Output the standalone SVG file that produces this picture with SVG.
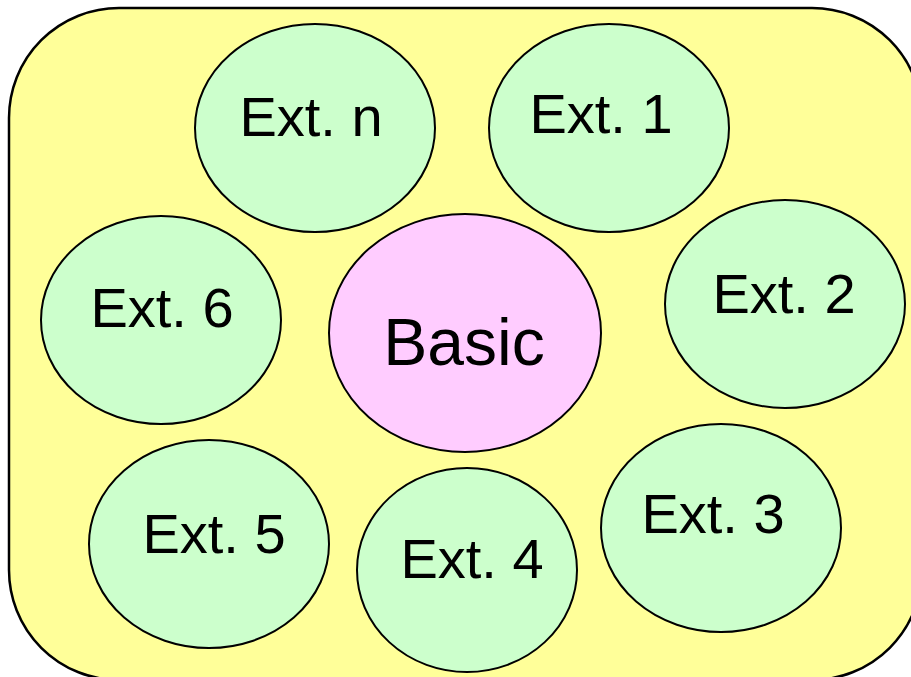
<svg xmlns="http://www.w3.org/2000/svg" width="911" height="677" viewBox="0 0 911 677">
<style>
.ext{fill:#CCFFCC;stroke:#000;stroke-width:2}
.basic{fill:#FFCCFF;stroke:#000;stroke-width:2}
text{font-family:"Liberation Sans","DejaVu Sans",sans-serif;fill:#000;text-anchor:middle}
.t{font-size:56px}
.b{font-size:66px}
</style>
<rect id="frame" x="9" y="8" width="913" height="672" rx="110" ry="110" fill="#FFFF99" stroke="#000" stroke-width="2.5"/>
<g id="connectors"></g>
<g id="ext-n"><ellipse class="ext" cx="315" cy="128" rx="120" ry="104"/><text class="t" x="311" y="136">Ext. n</text></g>
<g id="ext-1"><ellipse class="ext" cx="609" cy="128" rx="120" ry="104"/><text class="t" x="601" y="133">Ext. 1</text></g>
<g id="ext-6"><ellipse class="ext" cx="161" cy="320" rx="120" ry="104"/><text class="t" x="162" y="327">Ext. 6</text></g>
<g id="ext-2"><ellipse class="ext" cx="785" cy="304" rx="120" ry="104"/><text class="t" x="784" y="313">Ext. 2</text></g>
<g id="basic"><ellipse class="basic" cx="465" cy="333" rx="136" ry="119"/><text class="b" x="464" y="365">Basic</text></g>
<g id="ext-5"><ellipse class="ext" cx="209" cy="544" rx="120" ry="104"/><text class="t" x="214" y="553">Ext. 5</text></g>
<g id="ext-4"><ellipse class="ext" cx="467" cy="570" rx="110" ry="102"/><text class="t" x="472" y="578">Ext. 4</text></g>
<g id="ext-3"><ellipse class="ext" cx="721" cy="528" rx="120" ry="104"/><text class="t" x="713" y="533">Ext. 3</text></g>
</svg>
